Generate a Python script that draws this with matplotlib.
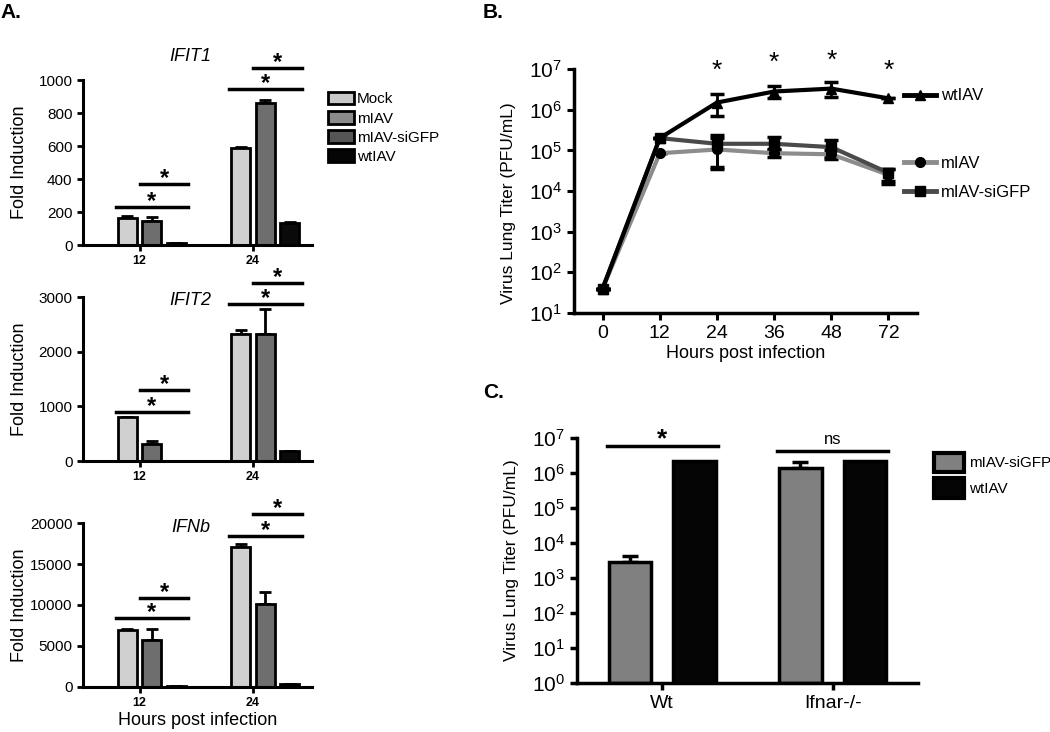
# 三个面板：A 柱状图（倍数诱导），B 病毒滴度曲线，C 病毒滴度柱状图
import numpy as np
import matplotlib
matplotlib.use("Agg")
import matplotlib.pyplot as plt
from matplotlib.patches import Patch
from matplotlib.lines import Line2D

plt.rcParams['font.family'] = ['Liberation Sans Narrow', 'Liberation Sans', 'DejaVu Sans']
plt.rcParams['mathtext.default'] = 'regular'

# ---- panel A data ----
a_groups = ["12", "24"]
a_series = ["Mock", "mIAV", "mIAV-siGFP", "wtIAV"]
a_bar_colors = ["#d0d0d0", "#d0d0d0", "#6e6e6e", "#0a0a0a"]
a_legend_colors = ["#c8c8c8", "#8a8a8a", "#555555", "#050505"]

ifit1_vals = [[1, 1], [165, 585], [145, 860], [10, 135]]
ifit1_err = [[0, 0], [8, 10], [25, 20], [2, 3]]
ifit2_vals = [[1, 1], [805, 2330], [320, 2330], [5, 180]]
ifit2_err = [[0, 0], [0, 60], [50, 450], [0, 0]]
ifnb_vals = [[1, 1], [7000, 17100], [5700, 10100], [60, 350]]
ifnb_err = [[0, 0], [100, 300], [1400, 1500], [0, 0]]

# significance bar heights (lower, upper) per group
ifit1_sig = [[230, 370], [945, 1073]]
ifit2_sig = [[896, 1300], [2870, 3256]]
ifnb_sig = [[8400, 10850], [18400, 21100]]

# ---- panel B data ----
b_hours = [0, 12, 24, 36, 48, 72]
b_pos = [0, 12, 24, 36, 48, 60]
wt_titer = [40, 2.0e5, 1.5e6, 2.8e6, 3.3e6, 1.9e6]
wt_lo = [40, 2.0e5, 0.7e6, 1.9e6, 2.1e6, 1.9e6]
wt_hi = [40, 2.0e5, 2.4e6, 3.9e6, 4.7e6, 1.9e6]
m_titer = [40, 8.5e4, 1.05e5, 8.5e4, 8.0e4, 2.5e4]
m_lo = [40, 8.5e4, 4.0e4, 7.0e4, 6.0e4, 1.5e4]
m_hi = [40, 8.5e4, 2.0e5, 1.1e5, 1.0e5, 3.5e4]
si_titer = [40, 2.0e5, 1.45e5, 1.45e5, 1.2e5, 2.8e4]
si_lo = [40, 2.0e5, 3.5e4, 1.0e5, 7.0e4, 1.8e4]
si_hi = [40, 2.0e5, 2.4e5, 2.1e5, 1.8e5, 3.5e4]
b_star_y = [9.0e6, 1.4e7, 1.6e7, 9.0e6]

# ---- panel C data ----
c_groups = ["Wt", "Ifnar-/-"]
c_si = [2.9e3, 1.4e6]
c_si_err = [1.3e3, 0.65e6]
c_wt = [2.2e6, 2.2e6]
c_sig_y = [5.9e6, 4.2e6]
c_sig_txt = ["*", "ns"]

fig = plt.figure(figsize=(10.5, 7.32), dpi=100)


def star(ax, x, y, dy=4, size=17):
    ax.annotate("*", (x, y), xytext=(0, dy), textcoords="offset points", ha="center",
                va="center", fontsize=size, fontweight="bold", annotation_clip=False)


def bar_panel(rect, title, vals, errs, sig, ymax, step, title_y):
    ax = fig.add_axes(rect)
    x = np.arange(len(a_groups))
    sp = 0.217
    w = 0.168
    for i in range(4):
        xs = x + (i - 1.5) * sp
        ax.bar(xs, vals[i], w, color=a_bar_colors[i], edgecolor="black", linewidth=2, zorder=2)
        e = np.array(errs[i])
        ax.errorbar(xs, vals[i], yerr=[np.zeros_like(e), e], fmt="none", ecolor="black",
                    elinewidth=2, capsize=4, capthick=2, zorder=1)
    for g in range(2):
        lo, hi = sig[g]
        x1 = x[g] - 0.5 * sp - w / 2 - 0.02
        x2 = x[g] + 1.5 * sp + w / 2 + 0.02
        x3 = x[g] + 0.5 * sp - w / 2 - 0.02
        ax.plot([x1, x2], [lo, lo], color="black", lw=2.5, clip_on=False)
        ax.plot([x3, x2], [hi, hi], color="black", lw=2.5, clip_on=False)
        star(ax, (x1 + x2) / 2, lo)
        star(ax, (x3 + x2) / 2, hi)
    ax.set_xlim(-0.5, 1.52)
    ax.set_ylim(0, ymax)
    ax.set_yticks(np.arange(0, ymax + 1, step))
    ax.set_xticks(x)
    ax.set_xticklabels(a_groups, fontweight="bold", fontsize=9)
    ax.tick_params(axis="y", labelsize=11, width=2, length=4)
    ax.tick_params(axis="x", width=2, length=4)
    for s in ["top", "right"]:
        ax.spines[s].set_visible(False)
    for s in ["left", "bottom"]:
        ax.spines[s].set_linewidth(2.2)
    ax.set_ylabel("Fold Induction", fontsize=13)
    ax.yaxis.set_label_coords(-0.24, 0.5)
    ax.text(0.45, title_y, title, style="italic", fontsize=13, ha="center", va="center")
    return ax


ax1 = bar_panel([0.079, 0.6653, 0.218, 0.2254], "IFIT1", ifit1_vals, ifit1_err, ifit1_sig, 1000, 200, 1140)
ax2 = bar_panel([0.079, 0.3702, 0.218, 0.224], "IFIT2", ifit2_vals, ifit2_err, ifit2_sig, 3000, 1000, 2940)
ax3 = bar_panel([0.079, 0.0615, 0.218, 0.224], "IFNb", ifnb_vals, ifnb_err, ifnb_sig, 20000, 5000, 19500)
ax3.set_xlabel("Hours post infection", fontsize=13, labelpad=2)

handles = [Patch(facecolor=c, edgecolor="black", linewidth=2) for c in a_legend_colors]
fig.legend(handles, a_series, loc="upper left", bbox_to_anchor=(0.305, 0.885), frameon=False,
           fontsize=11, handlelength=1.7, handleheight=0.9, handletextpad=0.2, labelspacing=0.3,
           borderpad=0)

# ---- panel B ----
axb = fig.add_axes([0.5467, 0.5724, 0.3267, 0.3333])
axb.set_yscale("log")
for yv, lo, hi, col, mk, lab in [
        (m_titer, m_lo, m_hi, "#8c8c8c", "o", "mIAV"),
        (si_titer, si_lo, si_hi, "#4a4a4a", "s", "mIAV-siGFP"),
        (wt_titer, wt_lo, wt_hi, "#000000", "^", "wtIAV")]:
    yv = np.array(yv)
    yerr = [yv - np.array(lo), np.array(hi) - yv]
    axb.errorbar(b_pos, yv, yerr=yerr, color=col, lw=3, marker=mk, ms=7, mfc="black", mec="black",
                 ecolor="black", elinewidth=2, capsize=5, capthick=2.5, label=lab, clip_on=False, zorder=3)
for xp, ys in zip(b_pos[2:], b_star_y):
    axb.text(xp, ys, "*", ha="center", va="center", fontsize=19, clip_on=False)
axb.set_xlim(-6, 66)
axb.set_ylim(10, 1e7)
axb.set_xticks(b_pos)
axb.set_xticklabels([str(h) for h in b_hours], fontsize=14)
axb.set_yticks([10 ** k for k in range(1, 8)])
axb.set_yticklabels(["10$^{%d}$" % k for k in range(1, 8)], fontsize=15)
axb.minorticks_off()
axb.tick_params(width=2.2, length=5)
for s in ["top", "right"]:
    axb.spines[s].set_visible(False)
for s in ["left", "bottom"]:
    axb.spines[s].set_linewidth(2.5)
axb.set_ylabel("Virus Lung Titer (PFU/mL)", fontsize=12.5)
axb.yaxis.set_label_coords(-0.17, 0.45)
axb.set_xlabel("Hours post infection", fontsize=13, labelpad=2)
lh = [Line2D([0], [0], color="#000000", lw=3.5, marker="^", ms=7, mfc="black", mec="black"),
      Line2D([0], [0], color="#8c8c8c", lw=3.5, marker="o", ms=7, mfc="black", mec="black"),
      Line2D([0], [0], color="#4a4a4a", lw=3.5, marker="s", ms=7, mfc="black", mec="black")]
fig.legend(lh[:1], ["wtIAV"], loc="center left", bbox_to_anchor=(0.853, 1 - 96 / 732), frameon=False,
           fontsize=12, handlelength=1.9, handletextpad=0.3, borderpad=0)
fig.legend(lh[1:], ["mIAV", "mIAV-siGFP"], loc="center left", bbox_to_anchor=(0.853, 1 - 178 / 732),
           frameon=False, fontsize=12, handlelength=1.9, handletextpad=0.3, labelspacing=0.8, borderpad=0)

# ---- panel C ----
axc = fig.add_axes([0.5495, 0.0669, 0.3248, 0.3347])
axc.set_yscale("log")
xc = np.arange(len(c_groups))
cw = 0.25
axc.bar(xc - 0.19, c_si, cw, bottom=1, color="#808080", edgecolor="black", linewidth=2.5, label="mIAV-siGFP", zorder=2)
axc.bar(xc + 0.19, c_wt, cw, bottom=1, color="#050505", edgecolor="black", linewidth=2.5, label="wtIAV", zorder=2)
axc.errorbar(xc - 0.19, c_si, yerr=[np.zeros(2), c_si_err], fmt="none", ecolor="black", elinewidth=2.5,
             capsize=6, capthick=2.5, zorder=1)
for g in range(2):
    x1 = xc[g] - 0.19 - cw / 2 - 0.01
    x2 = xc[g] + 0.19 + cw / 2 + 0.01
    axc.plot([x1, x2], [c_sig_y[g], c_sig_y[g]], color="black", lw=2.5, clip_on=False)
    if c_sig_txt[g] == "*":
        star(axc, (x1 + x2) / 2, c_sig_y[g], dy=5, size=19)
    else:
        axc.annotate("ns", ((x1 + x2) / 2, c_sig_y[g]), xytext=(0, 3), textcoords="offset points",
                     ha="center", va="bottom", fontsize=12, annotation_clip=False)
axc.set_xlim(-0.5, 1.5)
axc.set_ylim(1, 1e7)
axc.set_xticks(xc)
axc.set_xticklabels(c_groups, fontsize=14)
axc.set_yticks([10 ** k for k in range(0, 8)])
axc.set_yticklabels(["10$^{%d}$" % k for k in range(0, 8)], fontsize=15)
axc.minorticks_off()
axc.tick_params(width=2.5, length=5)
for s in ["top", "right"]:
    axc.spines[s].set_visible(False)
for s in ["left", "bottom"]:
    axc.spines[s].set_linewidth(2.5)
axc.set_ylabel("Virus Lung Titer (PFU/mL)", fontsize=12.5)
axc.yaxis.set_label_coords(-0.17, 0.5)
ch = [Patch(facecolor="#808080", edgecolor="black", linewidth=3),
      Patch(facecolor="#050505", edgecolor="black", linewidth=3)]
fig.legend(ch, ["mIAV-siGFP", "wtIAV"], loc="upper left", bbox_to_anchor=(0.882, 1 - 445 / 732),
           frameon=False, fontsize=11, handlelength=2.0, handleheight=1.6, handletextpad=0.3,
           labelspacing=0.4, borderpad=0)

fig.text(0.0, 1 - 12 / 732, "A.", fontsize=15, fontweight="bold", va="center")
fig.text(483 / 1050, 1 - 12 / 732, "B.", fontsize=15, fontweight="bold", va="center")
fig.text(483 / 1050, 1 - 392 / 732, "C.", fontsize=15, fontweight="bold", va="center")

fig.savefig("out.png", dpi=100)
